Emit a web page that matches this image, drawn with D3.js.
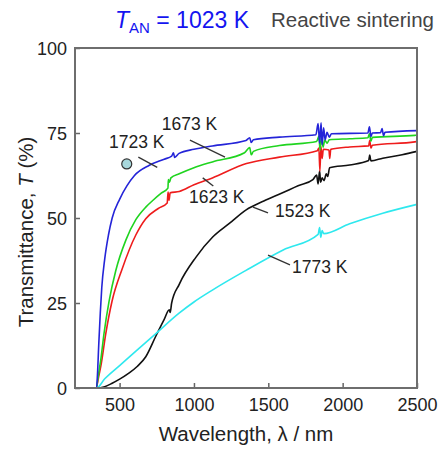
<!DOCTYPE html>
<html>
<head>
<meta charset="utf-8">
<script src="https://cdn.jsdelivr.net/npm/d3@7"></script>
<style>
  body { margin: 0; background: #fff; }
  text { font-family: Arial, "Liberation Sans", sans-serif; }
</style>
</head>
<body>
<div id="chart"></div>
<script>
// wavelength (nm), transmittance (%)
const blue1673 = [[200,0],[345,0],[350,3],[360,13],[370,22],[380,29.5],[400,38],[425,45],[450,50],[500,55.5],[550,59.5],[600,62.5],[700,65.5],[800,67.3],[850,68.2],[862,69.2],[870,67.8],[900,69],[1000,70.2],[1124,71.2],[1350,72.8],[1375,73.6],[1385,72.2],[1400,73],[1575,73.8],[1820,74.5],[1835,77.8],[1845,72],[1855,78],[1862,71.5],[1872,76.5],[1882,73],[1895,75.2],[1910,73.8],[1925,74.8],[2170,75],[2180,76.8],[2190,74],[2200,75],[2255,75.1],[2265,76.3],[2275,74.2],[2285,75.2],[2500,75.7]];
const green1723 = [[200,0],[345,0],[350,1.5],[360,4.5],[374,8.5],[395,16],[429,25.5],[474,34.5],[542,43.5],[609,49.5],[676,53.2],[719,55],[780,57.3],[825,58.8],[828,61.3],[835,60.5],[845,61.8],[901,63],[1000,64.8],[1124,66.5],[1340,69.2],[1375,70.7],[1385,68.6],[1400,69.6],[1575,71.3],[1825,72.5],[1840,74],[1848,70],[1858,74.2],[1868,70.8],[1880,72.9],[1895,72],[1910,73],[2047,73.3],[2170,73.6],[2180,74.8],[2190,72.6],[2200,73.7],[2485,74.3],[2500,74.4]];
const red1623 = [[200,0],[345,0],[350,1.2],[360,3.5],[374,6.5],[407,16],[449,25.5],[517,35],[609,45],[676,49.8],[760,52.8],[820,54.4],[826,57.6],[832,55.2],[840,57.4],[901,57.8],[1000,59.8],[1124,61.8],[1353,66],[1575,67.9],[1830,69.8],[1840,70.6],[1847,63.8],[1854,71],[1862,67.5],[1870,70.2],[1908,70],[1913,67.5],[1920,70.2],[2047,70.9],[2175,71.2],[2182,72.8],[2190,70.6],[2200,71.4],[2485,72.4],[2500,72.5]];
const black1523 = [[200,0],[345,0],[400,0.4],[450,1.4],[500,2.6],[560,4.3],[620,6.4],[676,9.2],[744,15.3],[800,20.2],[834,23],[840,22.2],[850,25],[901,30.5],[1014,38.5],[1126,44.4],[1238,48.4],[1351,52.4],[1470,55],[1596,57.4],[1700,59.5],[1800,61.3],[1825,62.6],[1835,60],[1845,63.8],[1852,60.5],[1862,61.8],[1875,61],[1890,63],[1900,62.2],[1912,64.8],[2047,65.6],[2175,66.9],[2182,68.5],[2190,66.8],[2270,67.6],[2400,68.6],[2500,69.6]];
const cyan1773 = [[200,0],[345,0],[400,2.7],[500,6.6],[600,10.5],[744,16],[900,22],[1000,25.3],[1124,28.8],[1350,34.6],[1600,40.6],[1835,45.2],[1845,47.2],[1853,44.3],[1862,46.3],[1872,45.4],[2047,48.3],[2270,51.4],[2500,54]];

const seriesNames = ["1523 K", "1623 K", "1723 K", "1673 K", "1773 K"];
const seriesData = [black1523, red1623, green1723, blue1673, cyan1773];
const seriesColors = ["#111111", "#ee1c1c", "#1fd41f", "#2424d8", "#2ee8ee"];

const xTicks = [500, 1000, 1500, 2000, 2500];
const yTicks = [0, 25, 50, 75, 100];

// curve labels: text position (nm, %) and leader line ends (nm, %)
const labelText = [
  { name: "1673 K", at: [783, 75.9], leader: [[973, 72.9], [1209, 67.9]] },
  { name: "1723 K", at: [429, 70.6], leader: [[626, 67.9], [753, 64.9]] },
  { name: "1623 K", at: [967, 54.4], leader: [[1059, 61.8], [1130, 59.4]] },
  { name: "1523 K", at: [1545, 50.3], leader: [[1397, 53.2], [1498, 51.5]] },
  { name: "1773 K", at: [1659, 33.8], leader: [[1498, 39.1], [1646, 36.2]] }
];
const markerAt = [548, 65.9];

function drawChart() {
  const width = 442;
  const height = 452;
  const margin = { left: 75, right: 25, top: 48, bottom: 64 };

  const x = d3.scaleLinear().domain([200, 2500]).range([margin.left, width - margin.right]);
  const y = d3.scaleLinear().domain([0, 100]).range([height - margin.bottom, margin.top]);

  const svg = d3.select("#chart").append("svg")
    .attr("width", width)
    .attr("height", height);

  // header
  const title = svg.append("text")
    .attr("x", 115).attr("y", 28)
    .attr("fill", "#1414f0")
    .style("font-size", "23px");
  title.append("tspan").attr("font-style", "italic").text("T");
  title.append("tspan").attr("dy", 5).style("font-size", "15px").text("AN");
  title.append("tspan").attr("dy", -5).text(" = 1023 K");

  svg.append("text")
    .attr("x", 271).attr("y", 27)
    .attr("fill", "#444")
    .style("font-size", "20.5px")
    .text("Reactive sintering");

  // axes with inward ticks
  const xAxis = svg.append("g")
    .attr("transform", `translate(0,${height - margin.bottom})`)
    .call(d3.axisBottom(x).tickValues(xTicks).tickFormat(d3.format("d")).tickSize(-5).tickPadding(10));
  const yAxis = svg.append("g")
    .attr("transform", `translate(${margin.left},0)`)
    .call(d3.axisLeft(y).tickValues(yTicks).tickFormat(d3.format("d")).tickSize(-5).tickPadding(8));

  [xAxis, yAxis].forEach((g) => {
    g.select(".domain").remove();
    g.selectAll(".tick line").attr("stroke", "#666").attr("stroke-width", 1.5);
    g.selectAll(".tick text")
      .attr("fill", "#222")
      .style("font-size", "18px")
      .style("font-family", "Arial, 'Liberation Sans', sans-serif");
  });
  yAxis.selectAll(".tick text").attr("dy", "0.36em");

  // curves
  const line = d3.line()
    .x((d) => x(d[0]))
    .y((d) => y(d[1]))
    .curve(d3.curveMonotoneX);

  svg.append("g")
    .attr("fill", "none")
    .attr("stroke-width", 1.6)
    .attr("stroke-linejoin", "round")
    .selectAll("path")
    .data(seriesData)
    .join("path")
    .attr("stroke", (d, i) => seriesColors[i])
    .attr("d", line);

  // frame
  svg.append("rect")
    .attr("x", margin.left)
    .attr("y", margin.top)
    .attr("width", width - margin.left - margin.right)
    .attr("height", height - margin.top - margin.bottom)
    .attr("fill", "none")
    .attr("stroke", "#6e6e6e")
    .attr("stroke-width", 2);

  // labels and leader lines
  const labels = svg.append("g");
  labels.selectAll("line")
    .data(labelText)
    .join("line")
    .attr("x1", (d) => x(d.leader[0][0]))
    .attr("y1", (d) => y(d.leader[0][1]))
    .attr("x2", (d) => x(d.leader[1][0]))
    .attr("y2", (d) => y(d.leader[1][1]))
    .attr("stroke", "#333")
    .attr("stroke-width", 1.3);
  labels.selectAll("text")
    .data(labelText)
    .join("text")
    .attr("x", (d) => x(d.at[0]))
    .attr("y", (d) => y(d.at[1]))
    .attr("fill", "#222")
    .style("font-size", "17.5px")
    .text((d) => d.name);

  svg.append("circle")
    .attr("cx", x(markerAt[0]))
    .attr("cy", y(markerAt[1]))
    .attr("r", 5)
    .attr("fill", "#a8d8dc")
    .attr("stroke", "#333")
    .attr("stroke-width", 1.2);

  // axis titles
  svg.append("text")
    .attr("x", 246).attr("y", 441)
    .attr("text-anchor", "middle")
    .attr("fill", "#222")
    .style("font-size", "20.5px")
    .text("Wavelength, λ / nm");

  const yt = svg.append("text")
    .attr("transform", "translate(33,232) rotate(-90)")
    .attr("text-anchor", "middle")
    .attr("fill", "#222")
    .style("font-size", "20.5px");
  yt.append("tspan").text("Transmittance, ");
  yt.append("tspan").attr("font-style", "italic").text("T");
  yt.append("tspan").text(" (%)");
}

window.onload = function () {
  drawChart();
};
</script>
</body>
</html>
